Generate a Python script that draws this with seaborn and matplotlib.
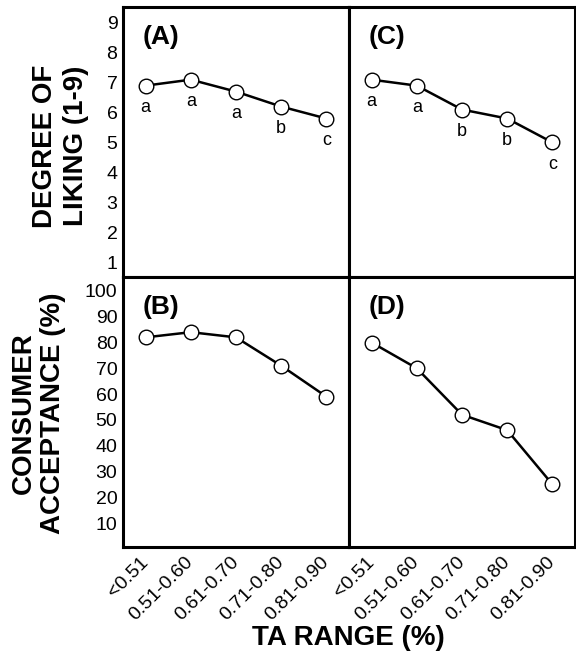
import numpy as np
import pandas as pd
import matplotlib
matplotlib.use("Agg")
import matplotlib.pyplot as plt
import seaborn as sns

sns.set_theme(style="white")
plt.rcParams["font.family"] = ["Liberation Sans", "DejaVu Sans"]
plt.rcParams["text.color"] = "black"

# TA range classes (x axis)
ta_ranges = ["<0.51", "0.51-0.60", "0.61-0.70", "0.71-0.80", "0.81-0.90"]

# Degree of liking (1-9 hedonic scale)
liking_A = [6.9, 7.1, 6.7, 6.2, 5.8]
liking_C = [7.1, 6.9, 6.1, 5.8, 5.0]
letters_A = ["a", "a", "a", "b", "c"]
letters_C = ["a", "a", "b", "b", "c"]

# Consumer acceptance (%)
accept_B = [82, 84, 82, 71, 59]
accept_D = [80, 70, 52, 46, 25]

liking_ticks = [1, 2, 3, 4, 5, 6, 7, 8, 9]
accept_ticks = [10, 20, 30, 40, 50, 60, 70, 80, 90, 100]

W, H = 576, 659
fig = plt.figure(figsize=(W / 100, H / 100), dpi=100)


def box(x0, y0, x1, y1):
    return [x0 / W, 1 - y1 / H, (x1 - x0) / W, (y1 - y0) / H]


ax_A = fig.add_axes(box(123, 7, 349, 277))
ax_C = fig.add_axes(box(349, 7, 575, 277))
ax_B = fig.add_axes(box(123, 277, 349, 547))
ax_D = fig.add_axes(box(349, 277, 575, 547))


def draw(ax, values, tag, ylim, yticks, show_ylabels, show_xlabels, letters=None):
    df = pd.DataFrame({"pos": np.arange(len(ta_ranges)), "val": values})
    sns.lineplot(data=df, x="pos", y="val", ax=ax, color="black", linewidth=1.8,
                 marker="o", markersize=10.5, markerfacecolor="white",
                 markeredgecolor="black", markeredgewidth=1.0)
    ax.set_xlim(-0.5, 4.5)
    ax.set_ylim(*ylim)
    ax.set_xticks(df["pos"])
    ax.set_yticks(yticks)
    ax.set_xlabel("")
    ax.set_ylabel("")
    ax.tick_params(direction="in", length=6, width=1.0, color="black",
                   labelsize=14, labelcolor="black", pad=4)
    ax.tick_params(axis="x", pad=9)
    if show_ylabels:
        ax.set_yticklabels([str(t) for t in yticks])
    else:
        ax.set_yticklabels([])
    if show_xlabels:
        ax.set_xticklabels(ta_ranges, rotation=45, ha="right", va="center",
                           rotation_mode="anchor")
    else:
        ax.set_xticklabels([])
    for s in ax.spines.values():
        s.set_linewidth(2.2)
        s.set_color("black")
    ax.text(0.085, 0.935, tag, transform=ax.transAxes, fontsize=19,
            fontweight="bold", ha="left", va="top", color="black")
    if letters is not None:
        for x, y, lab in zip(df["pos"], values, letters):
            ax.annotate(lab, (x, y), xytext=(0, -22), textcoords="offset pixels",
                        ha="center", va="center", fontsize=13, color="black")


draw(ax_A, liking_A, "(A)", (0.5, 9.53), liking_ticks, True, False, letters_A)
draw(ax_C, liking_C, "(C)", (0.5, 9.53), liking_ticks, False, False, letters_C)
draw(ax_B, accept_B, "(B)", (0.7, 105.4), accept_ticks, True, True)
draw(ax_D, accept_D, "(D)", (0.7, 105.4), accept_ticks, False, True)

label_kw = dict(rotation=90, ha="center", va="center", fontsize=20,
                fontweight="bold", color="black")
fig.text(45 / W, 1 - 146 / H, "DEGREE OF", **label_kw)
fig.text(76 / W, 1 - 146 / H, "LIKING (1-9)", **label_kw)
fig.text(24 / W, 1 - 413 / H, "CONSUMER", **label_kw)
fig.text(53 / W, 1 - 413 / H, "ACCEPTANCE (%)", **label_kw)

fig.text(348 / W, 1 - 638 / H, "TA RANGE (%)", ha="center", va="center",
         fontsize=20, fontweight="bold", color="black")

fig.savefig("out.png", dpi=100)
